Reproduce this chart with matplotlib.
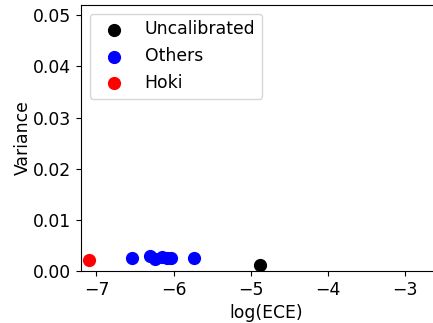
import matplotlib
matplotlib.use("Agg")
import matplotlib.pyplot as plt

uncal_x = [-4.88]
uncal_y = [0.0012]
others_x = [-6.54, -6.31, -6.24, -6.15, -6.09, -6.03, -5.74]
others_y = [0.0025, 0.0030, 0.0023, 0.0027, 0.0025, 0.0025, 0.0026]
hoki_x = [-7.09]
hoki_y = [0.0021]

fs = 12.4
fig = plt.figure(figsize=(4.33, 3.23), dpi=100)
ax = fig.add_axes([81/433, 52/323, 0.855, 266/323])
ax.scatter(uncal_x, uncal_y, color="black", s=72, label="Uncalibrated")
ax.scatter(others_x, others_y, color="blue", s=72, label="Others")
ax.scatter(hoki_x, hoki_y, color="red", s=72, label="Hoki")
ax.set_xlim(-7.2, -2.4)
ax.set_ylim(0, 0.052)
ax.set_xticks([-7, -6, -5, -4, -3])
ax.set_yticks([0, 0.01, 0.02, 0.03, 0.04, 0.05])
ax.tick_params(labelsize=fs)
ax.set_xlabel("log(ECE)", fontsize=fs)
ax.set_ylabel("Variance", fontsize=fs, labelpad=1)
ax.legend(loc="upper left", fontsize=fs)
fig.savefig("out.png", dpi=100)
